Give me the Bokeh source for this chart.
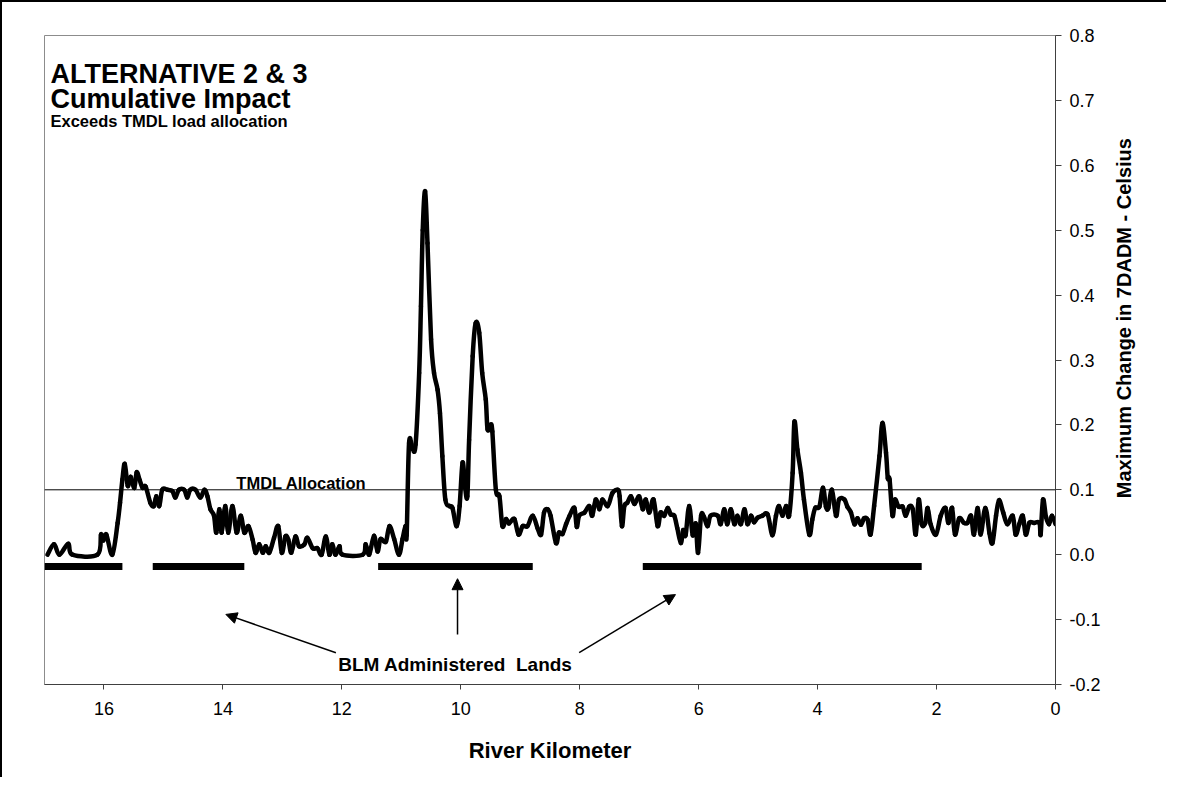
import math
import numpy as np
from bokeh.plotting import figure
from bokeh.layouts import row
from bokeh.models import Range1d, FixedTicker, NumeralTickFormatter, Label, Arrow, NormalHead, Span
from bokeh.embed import file_html
from bokeh.resources import INLINE

FONT = "Liberation Sans"

# River kilometer (x) and maximum change in 7DADM (y)
river_km = [16.95, 16.84, 16.75, 16.60, 16.53, 16.11, 16.05, 16.01, 15.96, 15.86,
            15.77, 15.73, 15.69, 15.65, 15.60, 15.55, 15.49, 15.45, 15.40, 15.35,
            15.30, 15.22, 15.16, 15.12, 15.07, 15.02, 14.93, 14.85, 14.80, 14.74,
            14.65, 14.60, 14.55, 14.46, 14.38, 14.31, 14.26, 14.21, 14.15, 14.11,
            14.06, 14.02, 13.96, 13.91, 13.84, 13.77, 13.70, 13.64, 13.57, 13.50,
            13.45, 13.39, 13.33, 13.28, 13.22, 13.14, 13.07, 13.01, 12.95, 12.90,
            12.85, 12.78, 12.72, 12.63, 12.58, 12.49, 12.41, 12.34, 12.27, 12.21,
            12.16, 12.11, 12.04, 11.99, 11.65, 11.60, 11.54, 11.46, 11.40, 11.35,
            11.26, 11.20, 11.12, 11.04, 10.98, 10.93, 10.91, 10.87, 10.81, 10.76,
            10.70, 10.67, 10.64, 10.60, 10.56, 10.50, 10.45, 10.39, 10.35, 10.31,
            10.26, 10.19, 10.14, 10.07, 10.02, 9.97, 9.93, 9.89, 9.86, 9.80,
            9.75, 9.69, 9.64, 9.58, 9.55, 9.50, 9.47, 9.41, 9.35, 9.30,
            9.24, 9.19, 9.10, 9.03, 8.96, 8.88, 8.79, 8.71, 8.65, 8.60,
            8.54, 8.49, 8.40, 8.35, 8.29, 8.23, 8.17, 8.09, 8.05, 8.01,
            7.92, 7.84, 7.79, 7.73, 7.67, 7.62, 7.53, 7.45, 7.36, 7.33,
            7.29, 7.25, 7.20, 7.14, 7.08, 7.00, 6.94, 6.89, 6.83, 6.76,
            6.69, 6.64, 6.58, 6.52, 6.47, 6.41, 6.36, 6.30, 6.26, 6.22,
            6.16, 6.10, 6.05, 6.01, 5.96, 5.91, 5.85, 5.80, 5.68, 5.63,
            5.57, 5.52, 5.46, 5.40, 5.35, 5.29, 5.23, 5.18, 5.12, 5.07,
            5.01, 4.93, 4.84, 4.76, 4.70, 4.65, 4.59, 4.53, 4.48, 4.42,
            4.39, 4.34, 4.28, 4.23, 4.14, 4.09, 4.04, 3.97, 3.91, 3.86,
            3.82, 3.76, 3.69, 3.64, 3.55, 3.50, 3.44, 3.38, 3.33, 3.27,
            3.22, 3.16, 3.11, 3.05, 2.96, 2.91, 2.85, 2.82, 2.79, 2.74,
            2.70, 2.64, 2.57, 2.52, 2.46, 2.40, 2.35, 2.30, 2.25, 2.19,
            2.15, 2.10, 2.01, 1.93, 1.85, 1.80, 1.74, 1.69, 1.62, 1.54,
            1.48, 1.42, 1.37, 1.31, 1.26, 1.18, 1.11, 1.06, 1.00, 0.95,
            0.88, 0.81, 0.72, 0.67, 0.61, 0.55, 0.50, 0.44, 0.36, 0.27,
            0.25, 0.21, 0.16, 0.11, 0.06, 0.00]
max_change = [0.000, 0.016, 0.000, 0.017, 0.000, 0.000, 0.031, 0.022, 0.031, 0.000,
              0.049, 0.080, 0.116, 0.140, 0.106, 0.120, 0.103, 0.127, 0.115, 0.103,
              0.105, 0.080, 0.075, 0.090, 0.075, 0.100, 0.100, 0.098, 0.088, 0.100,
              0.100, 0.088, 0.100, 0.100, 0.088, 0.100, 0.090, 0.070, 0.060, 0.034,
              0.070, 0.034, 0.075, 0.034, 0.075, 0.034, 0.060, 0.034, 0.044, 0.023,
              0.003, 0.016, 0.003, 0.013, 0.003, 0.026, 0.044, 0.003, 0.028, 0.023,
              0.003, 0.028, 0.013, 0.016, 0.026, 0.010, 0.010, 0.000, 0.028, 0.000,
              0.016, 0.000, 0.013, 0.000, 0.000, 0.016, 0.000, 0.029, 0.005, 0.024,
              0.020, 0.044, 0.024, 0.000, 0.024, 0.044, 0.030, 0.172, 0.162, 0.170,
              0.280, 0.383, 0.500, 0.560, 0.480, 0.332, 0.280, 0.254, 0.218, 0.152,
              0.085, 0.075, 0.072, 0.044, 0.075, 0.142, 0.106, 0.090, 0.177, 0.306,
              0.357, 0.342, 0.280, 0.239, 0.193, 0.200, 0.190, 0.100, 0.090, 0.044,
              0.055, 0.048, 0.055, 0.031, 0.044, 0.044, 0.060, 0.041, 0.031, 0.065,
              0.070, 0.060, 0.018, 0.034, 0.032, 0.047, 0.060, 0.072, 0.043, 0.060,
              0.065, 0.075, 0.060, 0.085, 0.070, 0.085, 0.075, 0.095, 0.100, 0.090,
              0.044, 0.075, 0.080, 0.090, 0.078, 0.090, 0.070, 0.085, 0.065, 0.085,
              0.044, 0.065, 0.060, 0.072, 0.062, 0.060, 0.041, 0.018, 0.038, 0.030,
              0.075, 0.030, 0.048, 0.003, 0.060, 0.058, 0.044, 0.060, 0.060, 0.047,
              0.070, 0.047, 0.070, 0.047, 0.060, 0.047, 0.070, 0.047, 0.060, 0.050,
              0.057, 0.060, 0.062, 0.030, 0.060, 0.075, 0.060, 0.075, 0.060, 0.126,
              0.205, 0.162, 0.126, 0.085, 0.031, 0.054, 0.072, 0.074, 0.103, 0.074,
              0.072, 0.100, 0.060, 0.085, 0.085, 0.074, 0.065, 0.047, 0.056, 0.046,
              0.056, 0.054, 0.031, 0.075, 0.152, 0.203, 0.157, 0.118, 0.116, 0.060,
              0.085, 0.074, 0.074, 0.060, 0.074, 0.070, 0.031, 0.085, 0.047, 0.049,
              0.072, 0.047, 0.031, 0.060, 0.072, 0.049, 0.072, 0.031, 0.056, 0.049,
              0.049, 0.060, 0.031, 0.072, 0.031, 0.072, 0.033, 0.018, 0.060, 0.084,
              0.065, 0.047, 0.060, 0.031, 0.047, 0.060, 0.031, 0.049, 0.049, 0.049,
              0.031, 0.085, 0.058, 0.047, 0.060, 0.047]

tmdl_allocation = 0.1

# BLM administered land reaches (km)
blm_start = [17.00, 15.18, 11.39, 6.94]
blm_end = [15.69, 13.64, 8.79, 2.25]
blm_level = [-0.018, -0.018, -0.018, -0.018]

# Annotation arrows (tail -> head), km / value
arrow_x0 = [12.10, 10.055, 8.01]
arrow_y0 = [-0.151, -0.123, -0.151]
arrow_x1 = [13.95, 10.055, 6.39]
arrow_y1 = [-0.092, -0.037, -0.0615]

x_ticks = [0, 2, 4, 6, 8, 10, 12, 14, 16]
y_ticks = [-0.2, -0.1, 0.0, 0.1, 0.2, 0.3, 0.4, 0.5, 0.6, 0.7, 0.8]

H = 775
p = figure(width=1103, height=H, output_backend="svg", toolbar_location=None,
           x_range=Range1d(17, 0), y_range=Range1d(-0.2, 0.8), y_axis_location="right",
           min_border_left=42, min_border_top=33, min_border_right=50, min_border_bottom=93)
p.xgrid.visible = False
p.ygrid.visible = False
p.outline_line_color = "#8c8c8c"
p.outline_line_width = 1
p.background_fill_color = "white"
p.border_fill_color = "white"

for ax in (p.xaxis[0], p.yaxis[0]):
    ax.axis_line_color = "#404040"
    ax.major_tick_line_color = "#404040"
    ax.minor_tick_line_color = None
    ax.major_tick_in = 0
    ax.major_label_text_font = FONT
    ax.major_label_text_font_size = "18px"
    ax.major_label_text_color = "black"

p.xaxis.ticker = FixedTicker(ticks=x_ticks)
p.xaxis.major_tick_out = 5
p.xaxis.major_label_standoff = 12
p.xaxis.axis_label = "River Kilometer"
p.xaxis.axis_label_text_font = FONT
p.xaxis.axis_label_text_font_style = "bold"
p.xaxis.axis_label_text_font_size = "22px"
p.xaxis.axis_label_text_color = "black"
p.xaxis.axis_label_standoff = 20

p.yaxis.ticker = FixedTicker(ticks=y_ticks)
p.yaxis.formatter = NumeralTickFormatter(format="0.0")
p.yaxis.major_tick_out = 6
p.yaxis.major_label_standoff = 8
p.yaxis.major_label_orientation = "horizontal"

p.add_layout(Span(location=tmdl_allocation, dimension="width", line_color="black", line_width=1))

p.segment(x0=blm_start, y0=blm_level, x1=blm_end, y1=blm_level,
          line_color="black", line_width=7, line_cap="butt")

# smoothed line (Catmull-Rom style Bezier segments through the data points)
xa = np.array(river_km)
ya = np.array(max_change)
xp = np.concatenate([[xa[0]], xa, [xa[-1]]])
yp = np.concatenate([[ya[0]], ya, [ya[-1]]])
n = len(xa)
cx0 = xa[:-1] + (xp[2:n + 1] - xp[0:n - 1]) / 6.0
cy0 = ya[:-1] + (yp[2:n + 1] - yp[0:n - 1]) / 6.0
cx1 = xa[1:] - (xp[3:n + 2] - xp[1:n]) / 6.0
cy1 = ya[1:] - (yp[3:n + 2] - yp[1:n]) / 6.0
p.bezier(x0=xa[:-1], y0=ya[:-1], x1=xa[1:], y1=ya[1:],
         cx0=cx0, cy0=cy0, cx1=cx1, cy1=cy1,
         line_color="black", line_width=4.5, line_cap="round")

for i in range(len(arrow_x0)):
    p.add_layout(Arrow(end=NormalHead(size=11, fill_color="black", line_color="black"),
                       x_start=arrow_x0[i], y_start=arrow_y0[i],
                       x_end=arrow_x1[i], y_end=arrow_y1[i],
                       line_color="black", line_width=1.5))

def lab(fig, text, x, y, size, align="left", baseline="alphabetic", angle=0.0):
    fig.add_layout(Label(text=text, x=x, y=y, text_font=FONT, text_font_size=size,
                         text_font_style="bold", text_color="black",
                         text_align=align, text_baseline=baseline, angle=angle))

lab(p, "ALTERNATIVE 2 & 3", 16.90, 0.740, "27px")
lab(p, "Cumulative Impact", 16.90, 0.7015, "27px")
lab(p, "Exceeds TMDL load allocation", 16.90, 0.669, "16.5px")
lab(p, "TMDL Allocation", 12.68, 0.111, "16.5px", align="center")
lab(p, "BLM Administered\u00a0 Lands", 10.09, -0.169, "19px", align="center")

# narrow strip holding the vertical axis title (right of the tick labels)
p2 = figure(width=61, height=H, output_backend="svg", toolbar_location=None,
            x_range=Range1d(0, 61), y_range=Range1d(0, H),
            x_axis_location=None, y_axis_location=None, min_border=0)
p2.xgrid.visible = False
p2.ygrid.visible = False
p2.outline_line_color = None
p2.background_fill_color = "white"
p2.border_fill_color = "white"
lab(p2, "Maximum Change in 7DADM - Celsius", 18, H - 337.5, "20px", align="center",
    baseline="middle", angle=math.pi / 2)

layout = row(p, p2, styles={"border-left": "2px solid black", "border-top": "2px solid black"})

open("out.html", "w").write(file_html(layout, INLINE))
